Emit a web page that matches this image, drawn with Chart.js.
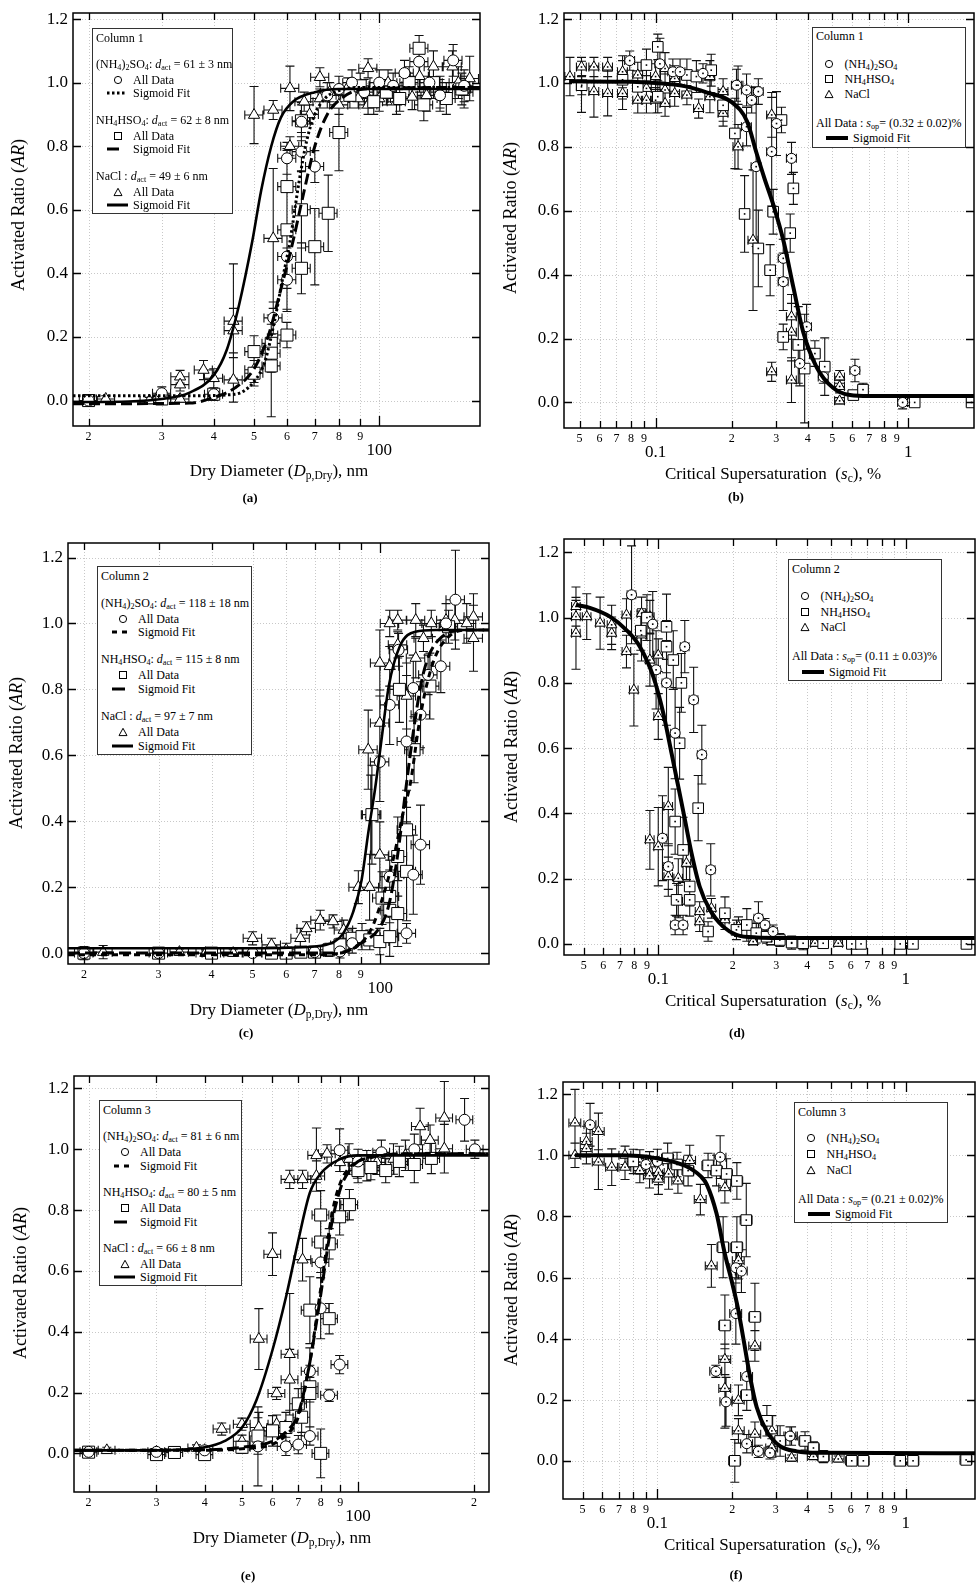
<!DOCTYPE html>
<html>
<head>
<meta charset="utf-8">
<title>Activated ratio vs dry diameter and critical supersaturation</title>
<script src="https://cdn.jsdelivr.net/npm/chart.js@4.4.1/dist/chart.umd.min.js"></script>
<style>
  body { margin: 0; background: #fff; }
  #page { position: relative; width: 977px; height: 1584px; overflow: hidden; font-family: "Liberation Serif", "Times New Roman", serif; color: #000; }
  #page canvas { position: absolute; }
  .txt { position: absolute; white-space: nowrap; line-height: 1; }
  .xtitle { font-size: 17px; transform: translate(-50%, -50%); }
  .ytitle { font-size: 18px; transform: translate(-50%, -50%) rotate(-90deg); }
  .plabel { font-size: 13px; font-weight: bold; transform: translate(-50%, -50%); }
  .legend { position: absolute; box-sizing: border-box; border: 1.5px solid #333; background: #fff; font-size: 12px; }
  .legend .row { position: absolute; white-space: nowrap; height: 16px; line-height: 16px; }
  .legend svg { position: absolute; }
  sub { font-size: 0.68em; vertical-align: -0.3em; line-height: 0; }
</style>
</head>
<body>
<div id="page"></div>
<script>
const SERIF = '"Liberation Serif", "Times New Roman", serif'

// ---- measured points, read off the figure: [x, AR, AR error] ----
// x is dry diameter in nm for a, c, e and critical supersaturation in % for b, d, f

// (a) column 1, dry diameter
const aAS = [[20,0.0,0.01],[30,0.023,0.02],[40,0.02,0.02],[55.6,0.26,0.05],[60,0.762,0.05],[60,0.453,0.1],[60,0.38,0.1],[65,0.783,0.06],[65,0.877,0.06],[70,0.736,0.05],[75,0.96,0.04],[80,0.98,0.04],[86,1.0,0.04],[92,0.97,0.04],[100,1.0,0.04],[108,0.99,0.04],[115,1.03,0.04],[124.7,1.066,0.05],[132,1.0,0.05],[140,0.96,0.05],[150.6,1.07,0.05],[160,0.99,0.05]]
const aAB = [[20,0.0,0.01],[30,0.005,0.01],[40,0.02,0.02],[50,0.154,0.05],[50,0.086,0.04],[55,0.18,0.06],[55,0.149,0.06],[55,0.109,0.16],[60,0.206,0.04],[60,0.537,0.25],[60,0.673,0.12],[65,0.6,0.12],[65,0.416,0.08],[65,0.88,0.05],[70,0.484,0.12],[75.4,0.589,0.12],[80,0.843,0.12],[85,0.96,0.04],[90,0.99,0.04],[97,0.94,0.04],[104,0.97,0.04],[112,0.95,0.04],[118,1.0,0.05],[124.7,1.108,0.04],[128,0.93,0.05],[135,1.0,0.05],[145,0.95,0.05],[158,0.98,0.05]]
const aNaCl = [[22,0.005,0.01],[28,0.0,0.01],[33.2,0.075,0.02],[33.2,0.05,0.02],[33.2,0.005,0.01],[37.8,0.096,0.03],[40,0.07,0.03],[44.6,0.25,0.18],[44.6,0.22,0.07],[44.6,0.065,0.07],[50,0.097,0.04],[50,0.898,0.09],[55.6,0.51,0.22],[55.6,0.914,0.03],[61,0.982,0.07],[61,0.8,0.03],[66,0.94,0.03],[68,0.9,0.03],[72,1.017,0.03],[72,0.95,0.03],[76,0.97,0.03],[80,0.93,0.03],[84,0.985,0.03],[89,0.95,0.03],[94,1.045,0.03],[94,0.93,0.03],[100,0.95,0.04],[105,1.0,0.04],[110,0.94,0.04],[115,1.03,0.04],[120,0.955,0.04],[125,1.02,0.05],[130,0.96,0.05],[135,1.05,0.05],[140,0.97,0.05],[150,1.05,0.05],[155,1.0,0.05],[160,0.97,0.05],[165,1.013,0.07]]

// (b) column 1, critical supersaturation
const bAS = [[0.079,1.07,0.03],[0.104,1.06,0.08],[0.117,1.035,0.04],[0.125,1.035,0.04],[0.154,1.03,0.03],[0.209,0.993,0.05],[0.229,0.978,0.05],[0.255,0.973,0.04],[0.24,0.946,0.04],[0.229,0.863,0.06],[0.25,0.738,0.25],[0.288,0.785,0.17],[0.301,0.873,0.1],[0.345,0.764,0.05],[0.32,0.451,0.06],[0.32,0.378,0.09],[0.396,0.237,0.07],[0.372,0.122,0.07],[0.461,0.08,0.02],[0.615,0.1,0.035],[0.95,0.0,0.02]]
const bAB = [[0.051,0.993,0.03],[0.074,1.01,0.06],[0.085,0.988,0.05],[0.092,1.056,0.05],[0.102,1.113,0.04],[0.102,0.957,0.05],[0.133,1.025,0.05],[0.145,1.02,0.05],[0.166,1.04,0.05],[0.185,0.93,0.05],[0.206,0.842,0.11],[0.225,0.59,0.12],[0.255,0.482,0.12],[0.284,0.414,0.08],[0.292,0.597,0.07],[0.315,0.884,0.04],[0.341,0.53,0.06],[0.351,0.67,0.05],[0.32,0.205,0.04],[0.367,0.18,0.12],[0.389,0.106,0.17],[0.427,0.153,0.04],[0.467,0.112,0.09],[0.606,0.023,0.01],[0.662,0.04,0.02],[1.06,0.0,0.01],[1.78,0.0,0.01]]
const bNaCl = [[0.0458,1.02,0.06],[0.0509,1.05,0.03],[0.0509,0.988,0.08],[0.057,1.05,0.03],[0.057,0.973,0.08],[0.0646,1.05,0.03],[0.0646,0.967,0.07],[0.074,0.967,0.05],[0.074,1.035,0.05],[0.085,0.946,0.04],[0.085,1.025,0.04],[0.092,0.983,0.04],[0.092,0.946,0.04],[0.1,0.946,0.04],[0.1,1.02,0.04],[0.109,0.978,0.05],[0.109,0.936,0.04],[0.109,1.045,0.05],[0.119,1.014,0.04],[0.119,0.967,0.04],[0.133,0.962,0.03],[0.148,0.92,0.03],[0.164,0.957,0.05],[0.164,1.02,0.05],[0.185,0.905,0.04],[0.185,0.973,0.04],[0.212,0.993,0.06],[0.212,0.8,0.07],[0.243,0.508,0.22],[0.288,0.096,0.03],[0.288,0.9,0.07],[0.345,0.268,0.07],[0.345,0.22,0.09],[0.345,0.07,0.07],[0.535,0.08,0.02],[0.535,0.05,0.02],[0.535,0.005,0.01],[1.01,0.0,0.01]]

// (c) column 2, dry diameter
const cAS = [[20,0.0,0.01],[30,0.0,0.01],[50,0.0,0.01],[70,0.003,0.01],[80.4,0.005,0.02],[85.9,0.03,0.03],[99.8,0.58,0.12],[105.3,0.753,0.12],[105.3,0.232,0.05],[110.5,0.92,0.05],[115.4,0.642,0.2],[115.4,0.06,0.03],[119.7,0.804,0.1],[119.7,0.238,0.12],[124.5,0.723,0.1],[124.5,0.329,0.12],[129.7,0.844,0.06],[139,0.87,0.08],[143,1.0,0.06],[150.5,1.072,0.15]]
const cAB = [[20,0.0,0.01],[30,0.0,0.01],[40,0.0,0.01],[55.4,0.0,0.01],[60,0.0,0.01],[65,0.003,0.01],[70,0.003,0.01],[75.7,0.01,0.02],[80.4,0.025,0.02],[85.9,0.045,0.03],[90.6,0.05,0.04],[94.5,0.04,0.03],[95.6,0.42,0.15],[99.8,0.035,0.04],[101,0.167,0.08],[105.3,0.05,0.06],[105.3,0.172,0.08],[105.3,0.13,0.07],[110,0.12,0.1],[110,0.293,0.12],[111,0.8,0.1],[115.4,0.374,0.12],[115.4,0.248,0.15],[120.2,0.617,0.1],[131,0.81,0.1],[145,0.99,0.05]]
const cNaCl = [[20,0.0,0.02],[22.2,0.003,0.02],[33.6,0.003,0.01],[38.7,0.0,0.01],[45,0.0,0.01],[50,0.045,0.02],[55.4,0.025,0.02],[60,0.01,0.02],[64.8,0.045,0.03],[67,0.075,0.02],[72.2,0.1,0.03],[77.4,0.096,0.02],[82,0.07,0.03],[88.8,0.2,0.05],[93.7,0.617,0.12],[94.4,0.2,0.1],[95,0.42,0.12],[99.8,0.698,0.1],[99.8,0.298,0.1],[99.8,0.88,0.1],[105.3,0.87,0.06],[105.3,1.0,0.04],[110,1.01,0.03],[110,0.935,0.04],[115.4,0.78,0.1],[121.3,1.01,0.05],[121.3,0.895,0.06],[126.5,0.955,0.04],[132,1.0,0.04],[143,1.01,0.05],[150,1.01,0.06],[160,1.0,0.06],[166,1.02,0.07],[166,0.955,0.1]]

// (d) column 2, critical supersaturation
const dAS = [[0.078,1.07,0.15],[0.095,0.98,0.1],[0.098,0.84,0.12],[0.108,0.8,0.13],[0.117,0.646,0.14],[0.128,0.911,0.08],[0.139,0.748,0.1],[0.15,0.58,0.09],[0.104,0.324,0.13],[0.1098,0.237,0.07],[0.117,0.058,0.03],[0.126,0.058,0.03],[0.163,0.227,0.08],[0.254,0.079,0.05],[0.27,0.058,0.02],[0.291,0.038,0.02]]
const dAB = [[0.085,0.96,0.06],[0.09,1.0,0.07],[0.108,0.972,0.1],[0.108,0.911,0.08],[0.115,0.87,0.09],[0.124,0.8,0.09],[0.122,0.615,0.11],[0.145,0.416,0.1],[0.117,0.375,0.1],[0.126,0.288,0.1],[0.134,0.176,0.06],[0.134,0.135,0.05],[0.1186,0.135,0.05],[0.159,0.038,0.03],[0.186,0.094,0.05],[0.207,0.043,0.03],[0.228,0.058,0.05],[0.249,0.033,0.03],[0.274,0.022,0.02],[0.31,0.012,0.02],[0.346,0.004,0.02],[0.385,0.002,0.02],[0.464,0.002,0.01],[0.606,0.0,0.01],[0.66,0.0,0.01],[0.95,0.0,0.01],[1.07,0.0,0.01],[1.76,0.0,0.01]]
const dNaCl = [[0.0465,1.003,0.05],[0.0465,0.952,0.11],[0.0465,1.034,0.06],[0.0514,1.003,0.07],[0.0582,0.983,0.08],[0.0648,0.952,0.05],[0.0648,0.978,0.06],[0.0744,1.008,0.05],[0.0744,0.896,0.05],[0.0797,0.778,0.11],[0.0856,1.013,0.05],[0.0856,0.947,0.08],[0.0925,1.003,0.05],[0.0925,0.87,0.08],[0.0925,0.319,0.09],[0.1,0.885,0.05],[0.1,0.697,0.07],[0.1,0.298,0.12],[0.1098,0.206,0.06],[0.1098,0.421,0.12],[0.1205,0.201,0.06],[0.1205,0.13,0.05],[0.13,0.247,0.05],[0.147,0.099,0.03],[0.147,0.068,0.03],[0.164,0.109,0.03],[0.186,0.074,0.03],[0.211,0.053,0.03],[0.242,0.007,0.01],[0.287,0.007,0.01],[0.346,0.002,0.01],[0.43,0.002,0.01],[0.534,0.002,0.01],[1.01,0.002,0.01]]

// (e) column 3, dry diameter
const eAS = [[20,0.005,0.01],[30,0.005,0.01],[40,0.01,0.01],[55,0.023,0.13],[65,0.023,0.03],[70,0.029,0.03],[75,0.057,0.03],[75,0.27,0.02],[80,0.628,0.05],[80,0.477,0.1],[84.2,0.191,0.02],[89.6,0.292,0.03],[89.6,0.997,0.07],[100,0.96,0.04],[115,0.99,0.04],[140,1.0,0.05],[189,1.097,0.07],[201,1.0,0.03]]
const eAB = [[20,0.004,0.01],[30,-0.004,0.01],[33.4,0.003,0.01],[40,-0.004,0.01],[50,0.02,0.02],[55,0.057,0.06],[60,0.074,0.05],[65,0.085,0.05],[70,0.163,0.05],[71.4,0.119,0.05],[75,0.471,0.11],[75,0.219,0.05],[75,0.197,0.15],[80,0.695,0.1],[80,0.784,0.08],[80,0.0,0.08],[84.2,0.443,0.05],[84.2,0.689,0.05],[89.6,0.778,0.06],[95,0.818,0.05],[100,0.93,0.04],[108,0.94,0.04],[118,0.93,0.04],[128,0.96,0.05],[140,0.95,0.06],[155,0.97,0.05]]
const eNaCl = [[22.3,0.01,0.01],[30,0.005,0.01],[38.1,0.018,0.01],[44.3,0.08,0.02],[50,0.096,0.02],[50,0.04,0.02],[55.3,0.376,0.1],[55.3,0.085,0.05],[60,0.655,0.07],[61.5,0.197,0.02],[61.5,0.096,0.03],[66.5,0.326,0.2],[66.5,0.242,0.1],[66.5,0.901,0.03],[71.8,0.901,0.03],[71.8,0.637,0.07],[78,0.912,0.05],[78,0.98,0.09],[83.1,0.985,0.03],[89.8,0.957,0.03],[94.8,0.968,0.05],[99.6,0.935,0.03],[105.4,0.946,0.05],[111.9,0.957,0.04],[123.6,0.968,0.05],[132.7,0.98,0.05],[144.9,1.075,0.06],[153.8,1.03,0.05],[167.5,1.103,0.12],[167.5,1.002,0.08]]

// (f) column 3, critical supersaturation
const fAS = [[0.0536,1.1,0.07],[0.09,0.97,0.03],[0.1,0.98,0.04],[0.179,0.994,0.07],[0.172,0.293,0.02],[0.189,0.193,0.08],[0.207,0.482,0.1],[0.207,0.632,0.05],[0.218,0.621,0.07],[0.229,0.276,0.05],[0.229,0.056,0.03],[0.255,0.031,0.02],[0.284,0.026,0.02],[0.342,0.081,0.03]]
const fAB = [[0.08,0.98,0.04],[0.11,0.99,0.05],[0.12,0.97,0.04],[0.133,0.95,0.05],[0.16,0.967,0.04],[0.173,0.95,0.05],[0.19,0.939,0.05],[0.184,0.699,0.1],[0.187,0.443,0.1],[0.209,0.916,0.06],[0.209,0.699,0.1],[0.205,0.0,0.07],[0.228,0.788,0.12],[0.247,0.471,0.11],[0.229,0.215,0.05],[0.276,0.131,0.05],[0.312,0.065,0.05],[0.393,0.065,0.03],[0.425,0.042,0.02],[0.466,0.014,0.02],[0.606,0.0,0.01],[0.675,0.0,0.01],[0.95,0.0,0.01],[1.07,0.0,0.01],[1.75,0.003,0.01]]
const fNaCl = [[0.0466,1.106,0.11],[0.0466,1.0,0.04],[0.0518,1.045,0.05],[0.0518,1.022,0.05],[0.0579,1.078,0.06],[0.0579,0.978,0.09],[0.0655,0.961,0.06],[0.0741,0.961,0.04],[0.0741,1.0,0.03],[0.085,0.978,0.04],[0.085,0.95,0.04],[0.093,0.972,0.04],[0.093,0.933,0.04],[0.101,0.944,0.04],[0.101,0.922,0.05],[0.111,0.939,0.05],[0.121,0.916,0.04],[0.135,0.983,0.05],[0.149,0.855,0.05],[0.165,0.638,0.07],[0.187,0.894,0.05],[0.187,0.332,0.05],[0.187,0.237,0.13],[0.212,0.655,0.06],[0.212,0.198,0.05],[0.212,0.098,0.04],[0.247,0.376,0.05],[0.247,0.087,0.04],[0.289,0.098,0.05],[0.289,0.042,0.03],[0.347,0.081,0.03],[0.347,0.009,0.01],[0.425,0.014,0.01],[0.535,0.006,0.01],[1.0,0.006,0.01]]

// ---- sigmoid fit curves, sampled from the figure: [x, AR] ----
const aFitAS = [[18.35,0.015],[35,0.015],[45,0.02],[50,0.06],[53,0.12],[56,0.25],[58.5,0.38],[61,0.5],[64,0.68],[67,0.82],[70,0.9],[74,0.95],[80,0.975],[90,0.985],[174.7,0.985]]
const aFitAB = [[18.35,-0.01],[35,-0.008],[40,0.01],[45,0.04],[50,0.1],[54,0.2],[58,0.35],[62,0.5],[66,0.66],[70,0.8],[75,0.9],[82,0.955],[92,0.98],[174.7,0.985]]
const aFitNaCl = [[18.35,-0.005],[25,-0.003],[30,0.005],[35,0.025],[40,0.08],[43,0.16],[46,0.3],[49.5,0.5],[52,0.66],[55,0.8],[58,0.89],[62,0.94],[70,0.97],[80,0.98],[174.7,0.98]]
const bFit = [[0.0455,1.005],[0.08,1.004],[0.1,1.0],[0.13,0.99],[0.16,0.97],[0.2,0.94],[0.23,0.88],[0.251,0.78],[0.27,0.7],[0.292,0.62],[0.322,0.5],[0.351,0.36],[0.384,0.22],[0.434,0.11],[0.505,0.045],[0.588,0.023],[0.7,0.02],[1.82,0.02]]
const cFitAS = [[18.34,-0.005],[70,-0.005],[85,0.01],[95,0.07],[102,0.18],[108,0.3],[113,0.42],[118,0.52],[123,0.68],[128,0.8],[135,0.9],[145,0.96],[160,0.98],[180.6,0.98]]
const cFitAB = [[18.34,0.0],[80,0.0],[90,0.03],[100,0.08],[105,0.15],[110,0.3],[115,0.5],[120,0.68],[125,0.82],[130,0.9],[140,0.96],[155,0.98],[180.6,0.98]]
const cFitNaCl = [[18.34,0.015],[50,0.015],[70,0.02],[78,0.035],[81.8,0.06],[86.4,0.126],[90.4,0.222],[93.7,0.364],[97.3,0.5],[100,0.617],[104.8,0.81],[111.2,0.93],[121,0.975],[135,0.98],[180.6,0.98]]
const dFit = [[0.0465,1.039],[0.0529,1.03],[0.0638,1.003],[0.0744,0.962],[0.0843,0.911],[0.0955,0.819],[0.1048,0.707],[0.1132,0.584],[0.1205,0.482],[0.1282,0.38],[0.1363,0.278],[0.147,0.176],[0.1618,0.104],[0.183,0.053],[0.207,0.028],[0.25,0.02],[0.4,0.018],[1.9,0.018]]
const eFitAS = [[18.33,0.01],[40,0.01],[50,0.015],[60,0.03],[65,0.06],[70,0.12],[75,0.3],[80,0.54],[86,0.8],[90,0.89],[95,0.94],[100,0.96],[110,0.975],[130,0.985],[218,0.985]]
const eFitAB = [[18.33,0.01],[40,0.012],[50,0.02],[60,0.04],[65,0.07],[70,0.13],[75,0.3],[80,0.52],[85,0.74],[90,0.87],[95,0.93],[100,0.96],[115,0.98],[140,0.985],[218,0.985]]
const eFitNaCl = [[18.33,0.01],[30,0.01],[40,0.02],[45,0.04],[50,0.085],[54.5,0.175],[60,0.34],[65.2,0.52],[70,0.7],[75,0.857],[80,0.92],[89.5,0.967],[100,0.98],[218,0.98]]
const fFit = [[0.0466,1.0],[0.07,1.0],[0.1,0.99],[0.13,0.965],[0.15,0.93],[0.158,0.905],[0.173,0.81],[0.187,0.677],[0.199,0.59],[0.211,0.5],[0.222,0.4],[0.236,0.276],[0.251,0.176],[0.275,0.098],[0.312,0.048],[0.364,0.031],[0.45,0.026],[1.9,0.025]]

// ---- tick values ----
const yTicks = [0, 0.2, 0.4, 0.6, 0.8, 1.0, 1.2]
const diamTicks = [20, 30, 40, 50, 60, 70, 80, 90, 100]
const diamTicksWide = [20, 30, 40, 50, 60, 70, 80, 90, 100, 200]
const ssTicks = [0.05, 0.06, 0.07, 0.08, 0.09, 0.1, 0.2, 0.3, 0.4, 0.5, 0.6, 0.7, 0.8, 0.9, 1]

// ---- text ----
const AS = '(NH<sub>4</sub>)<sub>2</sub>SO<sub>4</sub>'
const AB = 'NH<sub>4</sub>HSO<sub>4</sub>'
const DACT = '<i>d</i><sub>act</sub>'
const DIAM_TITLE = 'Dry Diameter (<i>D</i><sub>p,Dry</sub>), nm'
const SS_TITLE = 'Critical Supersaturation&nbsp; (<i>s</i><sub>c</sub>), %'
const AR_TITLE = 'Activated Ratio (<i>AR</i>)'

function leftLegend(col, asTxt, abTxt, naTxt, asDash, abDash, ys) {
    return [
        ['text', ys[0], col],
        ['text', ys[1], AS + ': ' + DACT + ' = ' + asTxt],
        ['sym', ys[2], 'All Data', 'circle'],
        ['line', ys[3], 'Sigmoid Fit', asDash[0], asDash[1]],
        ['text', ys[4], AB + ': ' + DACT + ' = ' + abTxt],
        ['sym', ys[5], 'All Data', 'rect'],
        ['line', ys[6], 'Sigmoid Fit', abDash[0], abDash[1]],
        ['text', ys[7], 'NaCl : ' + DACT + ' = ' + naTxt],
        ['sym', ys[8], 'All Data', 'tri'],
        ['line', ys[9], 'Sigmoid Fit', 'none', 21],
    ]
}

function rightLegend(col, sop, ys) {
    return [
        ['text', ys[0], col],
        ['sym', ys[1], AS, 'circle'],
        ['sym', ys[2], AB, 'rect'],
        ['sym', ys[3], 'NaCl', 'tri'],
        ['text', ys[4], 'All Data : <i>s</i><sub>op</sub>= (' + sop + ')%'],
        ['line', ys[5], 'Sigmoid Fit', 'none', 22],
    ]
}

const bigMarks = {circle: 5.5, rect: 8.5, triangle: 6.5}
const smallMarks = {circle: 5, rect: 7.5, triangle: 6}

const panels = [
    {
        box: [73, 13, 480, 426], x: [18.35, 174.7], y: [-0.08, 1.219], xTicks: diamTicks, xErr: 0.05, dots: false,
        series: [[aAS, 'circle'], [aAB, 'rect'], [aNaCl, 'triangle']], marks: bigMarks,
        fits: [[aFitNaCl, [], 2.6], [aFitAS, [2.5, 2.5], 3], [aFitAB, [11, 5], 3]],
        xTitle: [DIAM_TITLE, 279, 470], yTitle: [18, 215], label: ['(a)', 250, 497],
        legend: {box: [92, 28, 233, 214], right: false,
            rows: leftLegend('Column 1', '61 ± 3 nm', '62 ± 8 nm', '49 ± 6 nm', ['2.5 2.5', 20], ['none', 12], [38, 64, 80, 93, 120, 136, 149, 176, 192, 205])},
    },
    {
        box: [564, 13, 974, 428], x: [0.0434, 1.82], y: [-0.08, 1.219], xTicks: ssTicks, xErr: 0.045, dots: true,
        series: [[bAS, 'circle'], [bAB, 'rect'], [bNaCl, 'triangle']], marks: smallMarks,
        fits: [[bFit, [], 4]],
        xTitle: [SS_TITLE, 773, 473], yTitle: [510, 218], label: ['(b)', 736, 496],
        legend: {box: [812, 27, 966, 148], right: true,
            rows: rightLegend('Column 1', '0.32 ± 0.02', [36, 64, 79, 94, 123, 138])},
    },
    {
        box: [68, 543, 489, 964], x: [18.34, 180.6], y: [-0.033, 1.244], xTicks: diamTicks, xErr: 0.05, dots: false,
        series: [[cAS, 'circle'], [cAB, 'rect'], [cNaCl, 'triangle']], marks: bigMarks,
        fits: [[cFitNaCl, [], 2.6], [cFitAS, [6, 5], 3], [cFitAB, [12, 5], 3]],
        xTitle: [DIAM_TITLE, 279, 1009], yTitle: [16, 753], label: ['(c)', 246, 1032],
        legend: {box: [97, 566, 252, 755], right: false,
            rows: leftLegend('Column 2', '118 ± 18 nm', '115 ± 8 nm', '97 ± 7 nm', ['5 5', 15], ['none', 13], [576, 603, 619, 632, 659, 675, 689, 716, 732, 746])},
    },
    {
        box: [564, 539, 975, 955], x: [0.0416, 1.906], y: [-0.034, 1.241], xTicks: ssTicks, xErr: 0.04, dots: true,
        series: [[dAS, 'circle'], [dAB, 'rect'], [dNaCl, 'triangle']], marks: smallMarks,
        fits: [[dFit, [], 4]],
        xTitle: [SS_TITLE, 773, 1000], yTitle: [511, 747], label: ['(d)', 737, 1032],
        legend: {box: [788, 559, 942, 681], right: true,
            rows: rightLegend('Column 2', '0.11 ± 0.03', [569, 596, 612, 627, 656, 672])},
    },
    {
        box: [74, 1076, 489, 1492], x: [18.33, 218.7], y: [-0.127, 1.241], xTicks: diamTicksWide, xErr: 0.05, dots: false,
        series: [[eAS, 'circle'], [eAB, 'rect'], [eNaCl, 'triangle']], marks: bigMarks,
        fits: [[eFitNaCl, [], 2.6], [eFitAS, [6, 5], 3], [eFitAB, [12, 5], 3]],
        xTitle: [DIAM_TITLE, 282, 1537], yTitle: [20, 1283], label: ['(e)', 248, 1575],
        legend: {box: [99, 1100, 242, 1286], right: false,
            rows: leftLegend('Column 3', '81 ± 6 nm', '80 ± 5 nm', '66 ± 8 nm', ['5 5', 15], ['none', 13], [1110, 1136, 1152, 1166, 1192, 1208, 1222, 1248, 1264, 1277])},
    },
    {
        box: [563, 1082, 975, 1499], x: [0.0417, 1.9], y: [-0.125, 1.24], xTicks: ssTicks, xErr: 0.055, dots: true,
        series: [[fAS, 'circle'], [fAB, 'rect'], [fNaCl, 'triangle']], marks: smallMarks,
        fits: [[fFit, [], 4]],
        xTitle: [SS_TITLE, 772, 1544], yTitle: [511, 1290], label: ['(f)', 736, 1574],
        legend: {box: [794, 1102, 948, 1223], right: true,
            rows: rightLegend('Column 3', '0.21 ± 0.02', [1112, 1138, 1154, 1170, 1199, 1214])},
    },
]

// ---- helpers ----
function isDecade(v) {
    const l = Math.log10(v)
    return Math.abs(l - Math.round(l)) < 1e-6
}

function logLabel(v) {
    if (isDecade(v)) return ['', String(v)]
    return String(Math.round(v / Math.pow(10, Math.floor(Math.log10(v) + 1e-9))))
}

// dotted grid and error bars, under the markers
const underlay = {
    id: 'underlay',
    beforeDatasetsDraw(chart, args, opts) {
        const {ctx, chartArea: a, scales: {x, y}} = chart
        ctx.save()
        ctx.strokeStyle = '#c8c8c8'
        ctx.lineWidth = 1
        ctx.setLineDash([1, 2])
        ctx.beginPath()
        x.ticks.forEach(t => {
            const px = Math.round(x.getPixelForValue(t.value)) + 0.5
            ctx.moveTo(px, a.top); ctx.lineTo(px, a.bottom)
        })
        y.ticks.forEach(t => {
            const py = Math.round(y.getPixelForValue(t.value)) + 0.5
            ctx.moveTo(a.left, py); ctx.lineTo(a.right, py)
        })
        ctx.stroke()
        ctx.setLineDash([])

        ctx.beginPath()
        ctx.rect(a.left, a.top, a.right - a.left, a.bottom - a.top)
        ctx.clip()
        ctx.strokeStyle = '#111'
        ctx.lineWidth = 1.1
        const cap = 4.5
        ctx.beginPath()
        chart.data.datasets.forEach(ds => {
            if (!ds.errorBars) return
            ds.data.forEach(pt => {
                const px = x.getPixelForValue(pt.x), py = y.getPixelForValue(pt.y)
                const yt = y.getPixelForValue(pt.y + pt.e), yb = y.getPixelForValue(pt.y - pt.e)
                ctx.moveTo(px, yt); ctx.lineTo(px, yb)
                ctx.moveTo(px - cap, yt); ctx.lineTo(px + cap, yt)
                ctx.moveTo(px - cap, yb); ctx.lineTo(px + cap, yb)
                const xl = x.getPixelForValue(pt.x * (1 - opts.xErr)), xr = x.getPixelForValue(pt.x * (1 + opts.xErr))
                ctx.moveTo(xl, py); ctx.lineTo(xr, py)
                ctx.moveTo(xl, py - cap); ctx.lineTo(xl, py + cap)
                ctx.moveTo(xr, py - cap); ctx.lineTo(xr, py + cap)
            })
        })
        ctx.stroke()
        ctx.restore()
    }
}

// small dot in the middle of each marker (right-hand panels)
const centerDots = {
    id: 'centerDots',
    afterDatasetsDraw(chart, args, opts) {
        if (!opts.on) return
        const ctx = chart.ctx
        ctx.save()
        ctx.fillStyle = '#000'
        chart.data.datasets.forEach((ds, i) => {
            if (!ds.errorBars) return
            chart.getDatasetMeta(i).data.forEach(el => ctx.fillRect(el.x - 0.8, el.y - 0.8, 1.6, 1.6))
        })
        ctx.restore()
    }
}

// box around the plot with inward ticks on all four sides
const frame = {
    id: 'frame',
    afterDraw(chart) {
        const {ctx, chartArea: a, scales: {x, y}} = chart
        ctx.save()
        ctx.strokeStyle = '#000'
        ctx.lineWidth = 1.5
        ctx.strokeRect(a.left, a.top, a.right - a.left, a.bottom - a.top)
        ctx.lineWidth = 1.3
        ctx.beginPath()
        x.ticks.forEach(t => {
            const px = Math.round(x.getPixelForValue(t.value)) + 0.5
            const len = isDecade(t.value) ? 10 : 7
            ctx.moveTo(px, a.top); ctx.lineTo(px, a.top + len)
            ctx.moveTo(px, a.bottom); ctx.lineTo(px, a.bottom - len)
        })
        y.ticks.forEach(t => {
            const py = Math.round(y.getPixelForValue(t.value)) + 0.5
            ctx.moveTo(a.left, py); ctx.lineTo(a.left + 8, py)
            ctx.moveTo(a.right, py); ctx.lineTo(a.right - 8, py)
        })
        ctx.stroke()
        ctx.restore()
    }
}

const page = document.getElementById('page')

function buildPanel(p) {
    const [L, T, R, B] = p.box
    const padL = 62, padT = 10, padR = 12, padB = 46
    const canvas = document.createElement('canvas')
    canvas.width = R - L + padL + padR
    canvas.height = B - T + padT + padB
    canvas.style.left = (L - padL) + 'px'
    canvas.style.top = (T - padT) + 'px'
    page.appendChild(canvas)

    const datasets = []
    p.fits.forEach(([data, dash, width]) => datasets.push({
        data: data.map(([x, y]) => ({x, y})),
        showLine: true,
        pointRadius: 0,
        borderColor: '#000',
        borderWidth: width,
        borderDash: dash,
        cubicInterpolationMode: 'monotone',
        fill: false,
    }))
    p.series.forEach(([data, style]) => datasets.push({
        data: data.map(([x, y, e]) => ({x, y, e})),
        showLine: false,
        pointStyle: style,
        pointRadius: p.marks[style],
        pointBackgroundColor: '#fff',
        pointBorderColor: '#000',
        pointBorderWidth: 1,
        errorBars: true,
    }))

    new Chart(canvas, {
        type: 'scatter',
        data: {datasets},
        options: {
            responsive: false,
            animation: false,
            events: [],
            layout: {padding: {left: 0, top: padT, right: padR, bottom: 0}},
            plugins: {
                legend: {display: false},
                tooltip: {enabled: false},
                underlay: {xErr: p.xErr},
                centerDots: {on: p.dots},
            },
            scales: {
                x: {
                    type: 'logarithmic',
                    min: p.x[0],
                    max: p.x[1],
                    afterBuildTicks: s => { s.ticks = p.xTicks.map(v => ({value: v})) },
                    afterFit: s => { s.height = padB; s.paddingLeft = 0; s.paddingRight = 0 },
                    grid: {display: false, drawTicks: false},
                    border: {display: false},
                    ticks: {
                        autoSkip: false,
                        maxRotation: 0,
                        minRotation: 0,
                        padding: 4,
                        color: '#000',
                        callback: v => logLabel(v),
                        font: ctx => (ctx.tick && isDecade(ctx.tick.value))
                            ? {family: SERIF, size: 17, lineHeight: '14px'}
                            : {family: SERIF, size: 12},
                    },
                },
                y: {
                    min: p.y[0],
                    max: p.y[1],
                    afterBuildTicks: s => { s.ticks = yTicks.map(v => ({value: v})) },
                    afterFit: s => { s.width = padL; s.paddingTop = 0; s.paddingBottom = 0 },
                    grid: {display: false, drawTicks: false},
                    border: {display: false},
                    ticks: {
                        padding: 5,
                        color: '#000',
                        font: {family: SERIF, size: 17},
                        callback: v => v.toFixed(1),
                    },
                },
            },
        },
        plugins: [underlay, centerDots, frame],
    })
}

function addText(cls, html, x, y) {
    const el = document.createElement('div')
    el.className = 'txt ' + cls
    el.innerHTML = html
    el.style.left = x + 'px'
    el.style.top = y + 'px'
    page.appendChild(el)
}

function symbolSvg(kind) {
    if (kind === 'circle') return '<svg width="10" height="10"><circle cx="5" cy="5" r="3.6" fill="#fff" stroke="#000" stroke-width="1"/></svg>'
    if (kind === 'rect') return '<svg width="10" height="10"><rect x="1.5" y="1.5" width="7" height="7" fill="#fff" stroke="#000" stroke-width="1"/></svg>'
    return '<svg width="10" height="10"><path d="M5 1.3 L9 8.6 L1 8.6 Z" fill="#fff" stroke="#000" stroke-width="1"/></svg>'
}

function lineSvg(width, dash, lw) {
    return `<svg width="${width}" height="6"><line x1="0" y1="3" x2="${width}" y2="3" stroke="#000" stroke-width="${lw}" stroke-dasharray="${dash}"/></svg>`
}

function addLegend(leg) {
    const [l, t, r, b] = leg.box
    const box = document.createElement('div')
    box.className = 'legend'
    box.style.left = l + 'px'
    box.style.top = t + 'px'
    box.style.width = (r - l) + 'px'
    box.style.height = (b - t) + 'px'
    const o = leg.right
        ? {sym: 15.5, symText: 31.5, line: 13, lineText: 40, lw: 4}
        : {sym: 25, symText: 40, line: 14, lineText: 40, lw: 3}
    const put = (x, y, html) => {
        const row = document.createElement('div')
        row.className = 'row'
        row.style.left = x + 'px'
        row.style.top = y + 'px'
        row.innerHTML = html
        box.appendChild(row)
    }
    leg.rows.forEach(([kind, yc, html, a1, a2]) => {
        const top = yc - t - 9.5
        if (kind === 'text') {
            put(3, top, html)
        } else if (kind === 'sym') {
            put(o.sym - 5, yc - t - 9.5 + 3, symbolSvg(a1))
            put(o.symText, top, html)
        } else {
            put(o.line, yc - t - 9.5 + 5, lineSvg(a2, a1, o.lw))
            put(o.lineText, top, html)
        }
    })
    page.appendChild(box)
}

panels.forEach(p => {
    buildPanel(p)
    addLegend(p.legend)
    addText('xtitle', p.xTitle[0], p.xTitle[1], p.xTitle[2])
    addText('ytitle', AR_TITLE, p.yTitle[0], p.yTitle[1])
    addText('plabel', p.label[0], p.label[1], p.label[2])
})
</script>
</body>
</html>
